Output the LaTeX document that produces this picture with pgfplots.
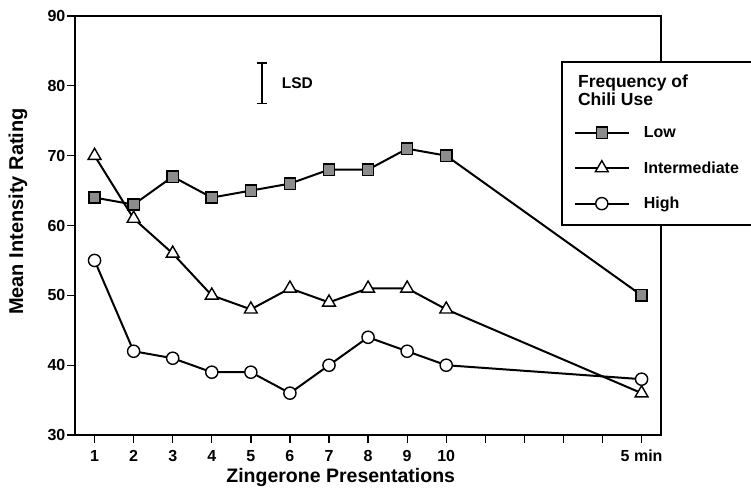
\documentclass[border=0pt]{standalone}
\usepackage{fontspec}
\setmainfont{Liberation Sans}
\usepackage{pgfplots}
\pgfplotsset{compat=1.18}
\begin{document}
\begin{tikzpicture}
\begin{axis}[
  scale only axis, width=586pt, height=419pt,
  xmin=0.5, xmax=15.5, ymin=30, ymax=90,
  xtick={1,...,15},
  xticklabels={1,2,3,4,5,6,7,8,9,10,,,,,5 min},
  ytick={30,40,...,90},
  tick align=outside, tick pos=left, major tick length=8pt,
  every tick/.style={black, line width=1.3pt},
  axis line style={line width=2pt},
  /pgf/number format/assume math mode=true,
  ticklabel style={font=\bfseries\fontsize{16}{16}\selectfont},
  yticklabel style={inner sep=1.5pt},
  xticklabel style={inner sep=0pt, yshift=-7pt},
  ylabel={Mean Intensity Rating},
  xlabel={Zingerone Presentations},
  ylabel style={at={(axis cs:-0.959,62.0)}, anchor=center, font=\bfseries\fontsize{20}{20}\selectfont},
  xlabel style={at={(axis cs:7.30,23.2)}, anchor=base, font=\bfseries\fontsize{19.5}{19.5}\selectfont},
  clip=false,
  legend style={at={(axis cs:13.26,68.19)}, anchor=west, draw=none, fill=none, inner sep=0pt,
    font=\bfseries\fontsize{16}{16}\selectfont, row sep=18.5pt, column sep=12pt},
  legend cell align=left,
  legend image code/.code={\draw[mark repeat=2,mark phase=2] plot coordinates {(0pt,0pt)(27pt,0pt)(54pt,0pt)};},
]
\draw[line width=1.4pt, fill=white] (axis cs:12.96,83.41) rectangle (axis cs:18.3,60.07);
\node[anchor=base west, font=\bfseries\fontsize{17.5}{17.5}\selectfont, inner sep=0pt] at (axis cs:13.37,79.79) {Frequency of};
\node[anchor=base west, font=\bfseries\fontsize{17.5}{17.5}\selectfont, inner sep=0pt] at (axis cs:13.37,77.25) {Chili Use};

\draw[line width=1.5pt] (axis cs:5.28,77.5) -- (axis cs:5.28,83.3);
\draw[line width=1.5pt] (axis cs:5.15,83.3) -- (axis cs:5.41,83.3);
\draw[line width=1.5pt] (axis cs:5.15,77.5) -- (axis cs:5.41,77.5);
\node[anchor=west, inner sep=0pt, font=\bfseries\fontsize{15.5}{15.5}\selectfont] at (axis cs:5.79,80.4) {LSD};

\addplot[black, line width=2pt, mark=square*, mark size=5.6pt, mark options={solid, fill=black!45, draw=black, line width=1.4pt}]
  coordinates {(1,64)(2,63)(3,67)(4,64)(5,65)(6,66)(7,68)(8,68)(9,71)(10,70)(15,50)};
\addlegendentry{Low}
\addplot[black, line width=2pt, mark=triangle*, mark size=7.4pt, mark options={solid, fill=white, draw=black, line width=1.4pt}]
  coordinates {(1,70)(2,61)(3,56)(4,50)(5,48)(6,51)(7,49)(8,51)(9,51)(10,48)(15,36)};
\addlegendentry{Intermediate}
\addplot[black, line width=2pt, mark=*, mark size=6.1pt, mark options={solid, fill=white, draw=black, line width=1.4pt}]
  coordinates {(1,55)(2,42)(3,41)(4,39)(5,39)(6,36)(7,40)(8,44)(9,42)(10,40)(15,38)};
\addlegendentry{High}

\coordinate (BL) at (axis cs:-1.42,22.55);
\coordinate (TR) at (axis cs:17.80,92.29);
\end{axis}
\pgfresetboundingbox
\path[use as bounding box] (BL) rectangle (TR);
\end{tikzpicture}
\end{document}
